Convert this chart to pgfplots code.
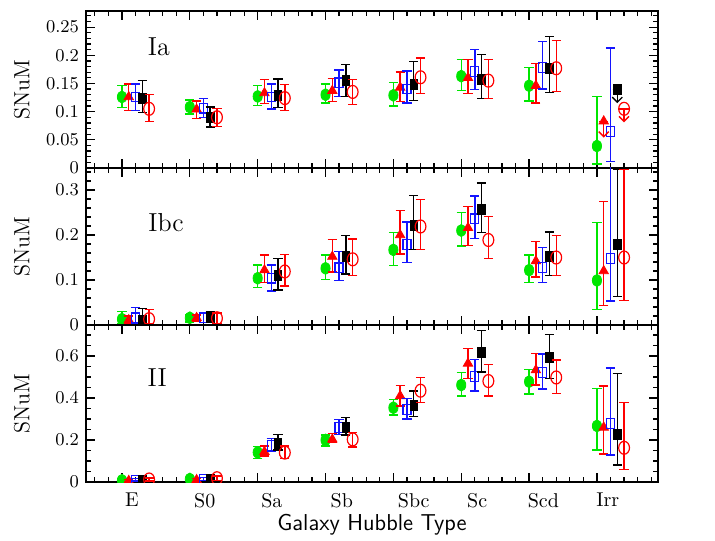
\documentclass[border=0pt]{standalone}
\usepackage{pgfplots}
\pgfplotsset{compat=1.18}
\usepackage{pgfplotstable}
\usetikzlibrary{arrows.meta}
\definecolor{mygreen}{RGB}{0,230,0}
\definecolor{myred}{RGB}{255,0,0}
\definecolor{myblue}{RGB}{20,20,255}

\pgfplotstableread{
x g gp gm t tp tm b bp bm k kp km c cp cm
1 0.126 0.020 0.019 0.126 0.023 0.024 0.126 0.023 0.024 0.123 0.032 0.025 0.105 0.025 0.022
2 0.108 0.013 0.012 0.104 0.015 0.016 0.106 0.017 0.016 0.090 0.018 0.017 0.090 0.016 0.016
3 0.127 0.019 0.016 0.133 0.024 0.019 0.126 0.023 0.021 0.129 0.029 0.022 0.124 0.024 0.022
4 0.130 0.019 0.015 0.137 0.022 0.019 0.151 0.023 0.024 0.155 0.029 0.028 0.135 0.022 0.022
5 0.129 0.023 0.019 0.143 0.027 0.025 0.140 0.032 0.025 0.149 0.040 0.029 0.161 0.034 0.029
6 0.163 0.029 0.026 0.160 0.033 0.028 0.171 0.039 0.032 0.157 0.044 0.034 0.155 0.038 0.032
7 0.146 0.032 0.027 0.146 0.039 0.031 0.178 0.046 0.038 0.177 0.056 0.043 0.177 0.049 0.041
8 0.039 0.088 0.032 nan 0 0 0.065 0.148 0.054 nan 0 0 nan 0 0
}\tabIa

\pgfplotstableread{
x g gp gm t tp tm b bp bm k kp km c cp cm
1 0.013 0.017 0.011 0.011 0.009 0.009 0.016 0.023 0.014 0.011 0.026 0.009 0.013 0.022 0.011
2 0.016 0.008 0.009 0.016 0.006 0.007 0.016 0.011 0.010 0.016 0.013 0.011 0.015 0.012 0.011
3 0.104 0.029 0.020 0.122 0.034 0.028 0.104 0.029 0.028 0.110 0.038 0.032 0.119 0.038 0.032
4 0.126 0.030 0.025 0.152 0.038 0.034 0.127 0.036 0.028 0.152 0.047 0.039 0.146 0.045 0.036
5 0.167 0.038 0.035 0.200 0.054 0.042 0.179 0.050 0.040 0.221 0.067 0.053 0.219 0.060 0.051
6 0.210 0.040 0.034 0.216 0.047 0.039 0.236 0.051 0.044 0.256 0.060 0.051 0.189 0.052 0.041
7 0.122 0.034 0.027 0.142 0.044 0.035 0.128 0.044 0.033 0.152 0.055 0.042 0.150 0.049 0.040
8 0.099 0.129 0.064 0.120 0.154 0.077 0.148 0.252 0.095 0.180 0.166 0.116 0.150 0.196 0.096
}\tabIbc

\pgfplotstableread{
x g gp gm t tp tm b bp bm k kp km c cp cm
1 0.008 0.006 0.006 0.006 0.006 0.006 0.010 0.006 0.006 0.008 0.007 0.007 0.012 0.007 0.007
2 0.014 0.008 0.008 0.010 0.008 0.008 0.014 0.008 0.008 0.013 0.009 0.009 0.018 0.010 0.010
3 0.141 0.027 0.028 0.144 0.027 0.020 0.173 0.035 0.029 0.184 0.043 0.032 0.140 0.031 0.027
4 0.200 0.024 0.029 0.203 0.029 0.016 0.260 0.038 0.033 0.260 0.046 0.036 0.203 0.034 0.036
5 0.354 0.040 0.035 0.410 0.049 0.047 0.346 0.052 0.046 0.367 0.066 0.056 0.435 0.062 0.056
6 0.462 0.060 0.052 0.565 0.072 0.071 0.502 0.082 0.069 0.617 0.104 0.092 0.481 0.079 0.071
7 0.478 0.059 0.059 0.533 0.080 0.071 0.522 0.088 0.079 0.592 0.111 0.098 0.498 0.083 0.076
8 0.267 0.179 0.115 0.260 0.197 0.127 0.279 0.265 0.150 0.227 0.290 0.146 0.163 0.215 0.103
}\tabII

\pgfplotsset{
  panel/.style={
    width=286pt, height=78.5pt, scale only axis,
    xmin=0.47, xmax=8.9,
    xtick={1,...,8}, xticklabels=\empty,
    minor xtick={0.6,0.8,...,8.81},
    tick align=inside, tick pos=both,
    major tick length=4.5pt, minor tick length=2.5pt,
    axis line style={line width=0.8pt},
    tick style={line width=0.6pt, black},
    scaled y ticks=false,
    yticklabel style={/pgf/number format/fixed, /pgf/number format/precision=2, font=\fontsize{9}{10}\selectfont},
    clip marker paths=true,
    ylabel={SNuM},
    ylabel style={at={(axis description cs:-0.112,0.5)}, anchor=center, font=\fontsize{11}{13}\selectfont},
  },
  ebar/.style={error bars/.cd, y dir=both, y explicit,
    error bar style={line width=0.7pt, solid},
    error mark options={rotate=90, mark size=2.3pt, line width=0.7pt, #1}},
  sG/.style={mygreen, only marks, mark=*, mark size=2.3pt, mark options={yscale=1.3, fill=mygreen, draw=mygreen}, ebar=mygreen},
  sT/.style={myred, only marks, mark=triangle*, mark size=2.7pt, mark options={fill=myred, draw=myred}, ebar=myred},
  sB/.style={myblue, only marks, mark=square, mark size=2pt, mark options={yscale=1.2, line width=0.6pt, draw=myblue}, ebar=myblue},
  sK/.style={black, only marks, mark=square*, mark size=1.9pt, mark options={yscale=1.3, fill=black, draw=black}, ebar=black},
  sC/.style={myred, only marks, mark=o, mark size=2.7pt, mark options={yscale=1.2, line width=0.6pt, draw=myred}, ebar=myred},
  ulim/.style={line width=0.7pt, mark=none, -{Straight Barb[length=2.5pt,width=5pt]}},
}

\newcommand\fiveseries[1]{%
  \addplot[sG] table[x expr=\thisrow{x}, y=g, y error plus=gp, y error minus=gm]{#1};
  \addplot[sT] table[x expr=\thisrow{x}+0.1, y=t, y error plus=tp, y error minus=tm]{#1};
  \addplot[sB] table[x expr=\thisrow{x}+0.2, y=b, y error plus=bp, y error minus=bm]{#1};
  \addplot[sK] table[x expr=\thisrow{x}+0.3, y=k, y error plus=kp, y error minus=km]{#1};
  \addplot[sC] table[x expr=\thisrow{x}+0.4, y=c, y error plus=cp, y error minus=cm]{#1};
}

\begin{document}
\begin{tikzpicture}
\useasboundingbox (-43pt,-29pt) rectangle (314.5pt,241pt);

% Top panel: Ia
\begin{axis}[panel, at={(0pt,157pt)}, anchor=south west,
  ymin=0, ymax=0.2786, ytick={0,0.05,...,0.251}, minor ytick={0,0.01,...,0.271}]
  \fiveseries{\tabIa}
  % upper limits (Irr)
  \addplot[myred, ulim, quiver={u=0,v=-0.029}] coordinates {(8.1,0.083)};
  \addplot[myred, ulim, quiver={u=0,v=-0.024}] coordinates {(8.4,0.105)};
  \addplot[black, ulim, quiver={u=0,v=-0.024}] coordinates {(8.3,0.139)};
  \addplot[sT] coordinates {(8.1,0.083) +- (0,0)};
  \addplot[sK] coordinates {(8.3,0.139) +- (0,0)};
  \addplot[sC] coordinates {(8.4,0.105) +- (0,0)};
  \node[font=\fontsize{13}{15}\selectfont] at (axis cs:1.545,0.216) {Ia};
\end{axis}

% Middle panel: Ibc
\begin{axis}[panel, at={(0pt,78.5pt)}, anchor=south west,
  ymin=0, ymax=0.349, ytick={0,0.1,0.2,0.3}, minor ytick={0,0.02,...,0.341}]
  \fiveseries{\tabIbc}
  \node[font=\fontsize{13}{15}\selectfont] at (axis cs:1.65,0.227) {Ibc};
\end{axis}

% Bottom panel: II
\begin{axis}[panel, at={(0pt,0pt)}, anchor=south west,
  ymin=0, ymax=0.748, ytick={0,0.2,0.4,0.6}, minor ytick={0,0.05,...,0.741},
  extra x ticks={1.147,2.22,3.21,4.24,5.30,6.235,7.21,8.16},
  extra x tick labels={E,S0,Sa,Sb,Sbc,Sc,Scd,Irr},
  extra x tick style={major tick length=0pt, tick style={draw=none},
    xticklabel style={font=\fontsize{10}{12}\selectfont, yshift=-2pt}},
  xlabel={Galaxy Hubble Type},
  xlabel style={at={(axis description cs:0.5,-0.27)}, anchor=center, font=\sffamily\fontsize{11.5}{13}\selectfont}]
  \fiveseries{\tabII}
  \node[font=\fontsize{13}{15}\selectfont] at (axis cs:1.52,0.495) {II};
\end{axis}
\end{tikzpicture}
\end{document}
